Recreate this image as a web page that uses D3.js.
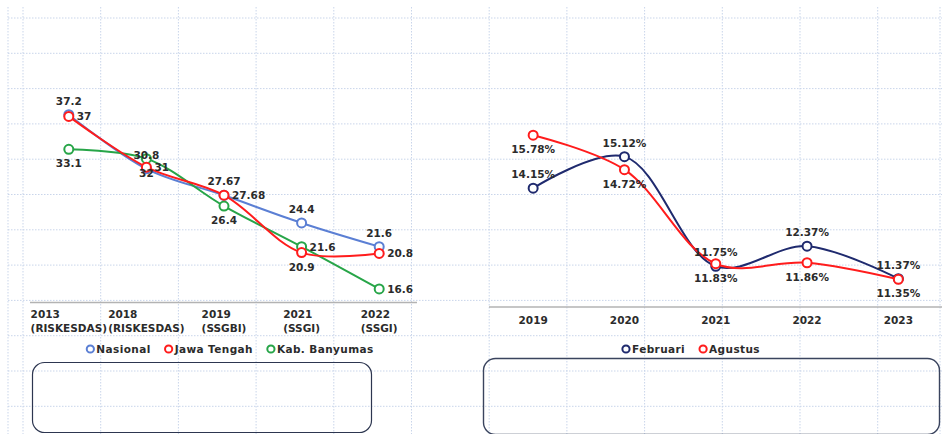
<!DOCTYPE html>
<html>
<head>
<meta charset="utf-8">
<script src="https://cdn.jsdelivr.net/npm/d3@7"></script>
<style>
  html, body { margin: 0; padding: 0; background: #fff; }
  svg { display: block; font-family: "DejaVu Sans", sans-serif; }
  .lbl { font-size: 10.5px; font-weight: bold; fill: #2b2b2b; }
  .leg { font-size: 10.5px; font-weight: bold; fill: #2b2b2b; letter-spacing: 0.4px; }
</style>
</head>
<body>
<svg id="chart" width="942" height="434"></svg>
<script>
// ---- data: left chart (stunting prevalence) ----
const leftYears = ["2013", "2018", "2019", "2021", "2022"];
const leftSources = ["(RISKESDAS)", "(RISKESDAS)", "(SSGBI)", "(SSGI)", "(SSGI)"];
const nasional = [37.2, 30.8, 27.67, 24.4, 21.6];
const jawaTengah = [37, 31, 27.68, 20.9, 20.8];
const banyumas = [33.1, 32, 26.4, 21.6, 16.6];

// ---- data: right chart ----
const rightYears = ["2019", "2020", "2021", "2022", "2023"];
const februari = [14.15, 15.12, 11.75, 12.37, 11.37];
const agustus = [15.78, 14.72, 11.83, 11.86, 11.35];

// label placement per point (kept apart from values)
const placeNasional = ["above", "above", "above", "above", "above"];
const placeJateng = ["right", "right", "right", "below", "right"];
const placeBanyumas = ["below", "below", "below", "right", "right"];

const svg = d3.select("#chart");

// background dotted grid
const grid = svg.append("g");
const gx = [8].concat(d3.range(12).map(i => 23 + i * 77.7), [940]);
const gy = d3.range(12).map(i => 18 + i * 35.3);
grid.selectAll("line.v").data(gx).enter().append("line")
  .attr("x1", d => d).attr("x2", d => d).attr("y1", 7).attr("y2", 434)
  .attr("stroke", "#c9d5ea").attr("stroke-dasharray", "1.5,1.5");
grid.selectAll("line.h").data(gy).enter().append("line")
  .attr("x1", 8).attr("x2", 942).attr("y1", d => d).attr("y2", d => d)
  .attr("stroke", "#c9d5ea").attr("stroke-dasharray", "1.5,1.5");

const curve = d3.curveCatmullRom.alpha(0.5);

function drawSeries(g, x, y, cats, values, color) {
  const line = d3.line()
    .x((d, i) => x(cats[i]) + x.bandwidth() / 2)
    .y(d => y(d))
    .curve(curve);
  g.append("path").datum(values)
    .attr("d", line).attr("fill", "none")
    .attr("stroke", color).attr("stroke-width", 2);
  g.selectAll(null).data(values).enter().append("circle")
    .attr("cx", (d, i) => x(cats[i]) + x.bandwidth() / 2)
    .attr("cy", d => y(d)).attr("r", 4.5)
    .attr("fill", "#fff").attr("stroke", color).attr("stroke-width", 2);
}

function drawLabels(g, x, y, cats, values, places, fmt) {
  g.selectAll(null).data(values).enter().append("text")
    .attr("class", "lbl")
    .attr("x", (d, i) => {
      const cx = x(cats[i]) + x.bandwidth() / 2;
      return places[i] === "right" ? cx + 8 : cx;
    })
    .attr("y", (d, i) => {
      const cy = y(d);
      if (places[i] === "above") return cy - 10;
      if (places[i] === "below") return cy + 18;
      return cy + 4;
    })
    .attr("text-anchor", (d, i) => places[i] === "right" ? "start" : "middle")
    .text(fmt);
}

function legend(g, items, cx, cy) {
  const lg = g.append("g");
  let pos = 0;
  items.forEach(it => {
    lg.append("circle").attr("cx", pos + 4).attr("cy", cy)
      .attr("r", 3.6).attr("fill", "#fff")
      .attr("stroke", it.color).attr("stroke-width", 2);
    const t = lg.append("text").attr("class", "leg")
      .attr("x", pos + 10).attr("y", cy + 4).text(it.name);
    pos += 10 + t.node().getComputedTextLength() + 14;
  });
  const w = pos - 14;
  lg.attr("transform", `translate(${cx - w / 2},0)`);
}

// ---- left chart ----
const left = svg.append("g");
const xL = d3.scaleBand().domain(leftYears).range([30, 418]);
const yL = d3.scaleLinear().domain([15, 40]).range([302.5, 91]);

left.append("line").attr("x1", 30).attr("x2", 417).attr("y1", 302.5).attr("y2", 302.5)
  .attr("stroke", "#b3b3b3").attr("stroke-width", 1.5);

leftYears.forEach((yr, i) => {
  const cx = xL(yr) + xL.bandwidth() / 2;
  const t2 = left.append("text").attr("class", "lbl").attr("y", 332).text(leftSources[i]);
  const w = t2.node().getComputedTextLength();
  t2.attr("x", cx - w / 2);
  left.append("text").attr("class", "lbl").attr("x", cx - w / 2).attr("y", 318).text(yr);
});

const fmtL = d => String(d);
drawSeries(left, xL, yL, leftYears, nasional, "#5b7fd4");
drawSeries(left, xL, yL, leftYears, banyumas, "#27a548");
drawSeries(left, xL, yL, leftYears, jawaTengah, "#ff1c1c");
drawLabels(left, xL, yL, leftYears, nasional, placeNasional, fmtL);
drawLabels(left, xL, yL, leftYears, jawaTengah, placeJateng, fmtL);
drawLabels(left, xL, yL, leftYears, banyumas, placeBanyumas, fmtL);

legend(left, [
  { name: "Nasional", color: "#5b7fd4" },
  { name: "Jawa Tengah", color: "#ff1c1c" },
  { name: "Kab. Banyumas", color: "#27a548" }
], 230, 349);

// ---- right chart ----
const right = svg.append("g");
const xR = d3.scaleBand().domain(rightYears).range([487.5, 944]);
const yR = d3.scaleLinear().domain([10.5, 16]).range([307, 128]);

right.append("line").attr("x1", 489).attr("x2", 942).attr("y1", 307).attr("y2", 307)
  .attr("stroke", "#b3b3b3").attr("stroke-width", 1.5);

right.append("g").selectAll("text").data(rightYears).enter().append("text")
  .attr("class", "lbl")
  .attr("x", d => xR(d) + xR.bandwidth() / 2).attr("y", 324)
  .attr("text-anchor", "middle").text(d => d);

const fmtR = d => d.toFixed(2) + "%";
drawSeries(right, xR, yR, rightYears, februari, "#1f2a6e");
drawSeries(right, xR, yR, rightYears, agustus, "#ff1c1c");
drawLabels(right, xR, yR, rightYears, februari, februari.map(() => "above"), fmtR);
drawLabels(right, xR, yR, rightYears, agustus, agustus.map(() => "below"), fmtR);

legend(right, [
  { name: "Februari", color: "#1f2a6e" },
  { name: "Agustus", color: "#ff1c1c" }
], 691, 349);

// ---- empty rounded boxes below ----
svg.append("rect").attr("x", 32.5).attr("y", 362.5).attr("width", 339).attr("height", 70)
  .attr("rx", 12).attr("fill", "none").attr("stroke", "#2d3650").attr("stroke-width", 1.2);
svg.append("rect").attr("x", 483.5).attr("y", 358.5).attr("width", 456).attr("height", 76)
  .attr("rx", 12).attr("fill", "none").attr("stroke", "#3a445e").attr("stroke-width", 1.4);
</script>
</body>
</html>
